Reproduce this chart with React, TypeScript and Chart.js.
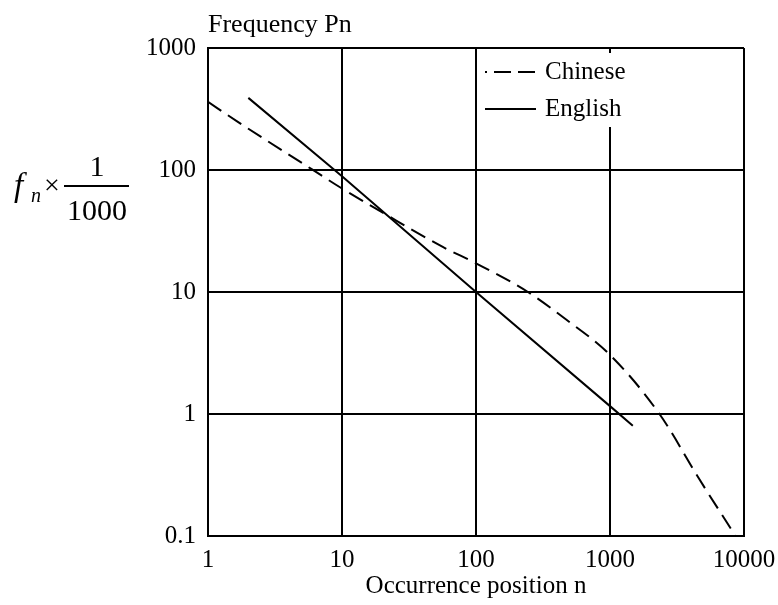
import React, { useEffect, useRef } from "react";
import { Chart, registerables } from "chart.js";

Chart.register(...registerables);

// ---- data ----
const xTickValues = [1, 10, 100, 1000, 10000];
const yTickValues = [0.1, 1, 10, 100, 1000];

const chineseN = [1, 1.67, 5.9, 10, 20.7, 56.5, 100, 244, 447, 1000, 2340, 4660, 8650];
const chineseF = [362, 248, 102, 70.5, 43.9, 23.4, 17.2, 10, 6.2, 3.05, 1.0, 0.29, 0.1];

const englishN = [2, 10, 100, 1000, 1480];
const englishF = [390, 89, 10, 1.16, 0.8];

const seriesNames = ["Chinese", "English"];
const xAxisTitle = "Occurrence position n";
const yAxisTitle = "Frequency Pn";

const FONT = '"Liberation Serif", "Times New Roman", serif';

const overlayPlugin = {
  id: "overlay",
  afterDraw(chart: any) {
    const ctx = chart.ctx;
    const area = chart.chartArea;
    ctx.save();
    ctx.fillStyle = "#000";
    ctx.strokeStyle = "#000";

    // top title
    ctx.font = `26px ${FONT}`;
    ctx.textAlign = "left";
    ctx.textBaseline = "alphabetic";
    ctx.fillText(yAxisTitle, area.left, 32);

    // x axis title
    ctx.font = `25px ${FONT}`;
    ctx.textAlign = "center";
    ctx.fillText(xAxisTitle, (area.left + area.right) / 2, 593);

    // y formula  f_n x 1/1000
    ctx.textAlign = "left";
    ctx.font = `italic 33px ${FONT}`;
    ctx.fillText("f", 14, 196);
    ctx.font = `italic 20px ${FONT}`;
    ctx.fillText("n", 31, 202);
    ctx.font = `28px ${FONT}`;
    ctx.textAlign = "center";
    ctx.textBaseline = "middle";
    ctx.fillText("\u00d7", 52, 187);
    ctx.textBaseline = "alphabetic";
    ctx.lineWidth = 2;
    ctx.beginPath();
    ctx.moveTo(64, 186);
    ctx.lineTo(129, 186);
    ctx.stroke();
    ctx.font = `30px ${FONT}`;
    ctx.fillText("1", 97, 176);
    ctx.fillText("1000", 97, 220);

    // legend
    ctx.fillStyle = "#fff";
    ctx.fillRect(480, 53, 160, 74);
    const items = chart.data.datasets;
    const ys = [72, 109];
    items.forEach((ds: any, i: number) => {
      const y = ys[i];
      ctx.strokeStyle = "#000";
      ctx.lineWidth = 2;
      if (ds.borderDash && ds.borderDash.length) {
        ctx.setLineDash([17, 7]);
        ctx.lineDashOffset = 15;
      } else {
        ctx.setLineDash([]);
        ctx.lineDashOffset = 0;
      }
      ctx.beginPath();
      ctx.moveTo(485, y);
      ctx.lineTo(536, y);
      ctx.stroke();
      ctx.setLineDash([]);
      ctx.fillStyle = "#000";
      ctx.font = `25px ${FONT}`;
      ctx.textAlign = "left";
      ctx.textBaseline = "middle";
      ctx.fillText(ds.label, 545, y);
    });
    ctx.restore();
  },
};

export default function App() {
  const ref = useRef<HTMLCanvasElement | null>(null);

  useEffect(() => {
    document.body.style.margin = "0";
    const canvas = ref.current;
    if (!canvas) return;
    Chart.defaults.font.family = FONT;
    Chart.defaults.color = "#000";

    const chart = new Chart(canvas, {
      type: "line",
      data: {
        datasets: [
          {
            label: seriesNames[0],
            data: chineseN.map((n, i) => ({ x: n, y: chineseF[i] })),
            borderColor: "#000",
            borderWidth: 2,
            borderDash: [16, 8],
            pointRadius: 0,
            fill: false,
            cubicInterpolationMode: "monotone",
          },
          {
            label: seriesNames[1],
            data: englishN.map((n, i) => ({ x: n, y: englishF[i] })),
            borderColor: "#000",
            borderWidth: 2,
            pointRadius: 0,
            fill: false,
            tension: 0,
          },
        ],
      },
      options: {
        animation: false,
        responsive: false,
        devicePixelRatio: 1,
        layout: { padding: { left: 0, top: 48, right: 34, bottom: 0 } },
        plugins: {
          legend: { display: false },
          tooltip: { enabled: false },
          title: { display: false },
        },
        scales: {
          x: {
            type: "logarithmic",
            min: 1,
            max: 10000,
            position: "bottom",
            grid: { color: "#000", lineWidth: 2, drawTicks: false },
            border: { color: "#000", width: 2 },
            ticks: {
              color: "#000",
              font: { size: 25, family: FONT },
              padding: 9,
              maxRotation: 0,
              autoSkip: false,
              callback: (v: any) => String(v),
            },
            afterBuildTicks: (s: any) => {
              s.ticks = xTickValues.map((v) => ({ value: v }));
            },
            afterFit: (s: any) => {
              s.height = 69;
              s.paddingLeft = 0;
              s.paddingRight = 0;
            },
          },
          y: {
            type: "logarithmic",
            min: 0.1,
            max: 1000,
            position: "left",
            grid: { color: "#000", lineWidth: 2, drawTicks: false },
            border: { color: "#000", width: 2 },
            ticks: {
              color: "#000",
              font: { size: 25, family: FONT },
              padding: 12,
              autoSkip: false,
              callback: (v: any) => String(v),
            },
            afterBuildTicks: (s: any) => {
              s.ticks = yTickValues.map((v) => ({ value: v }));
            },
            afterFit: (s: any) => {
              s.width = 208;
              s.paddingTop = 0;
              s.paddingBottom = 0;
            },
          },
        },
      },
      plugins: [overlayPlugin],
    });
    return () => chart.destroy();
  }, []);

  return (
    <div style={{ width: 778, height: 605 }}>
      <canvas ref={ref} width={778} height={605} style={{ display: "block" }} />
    </div>
  );
}
